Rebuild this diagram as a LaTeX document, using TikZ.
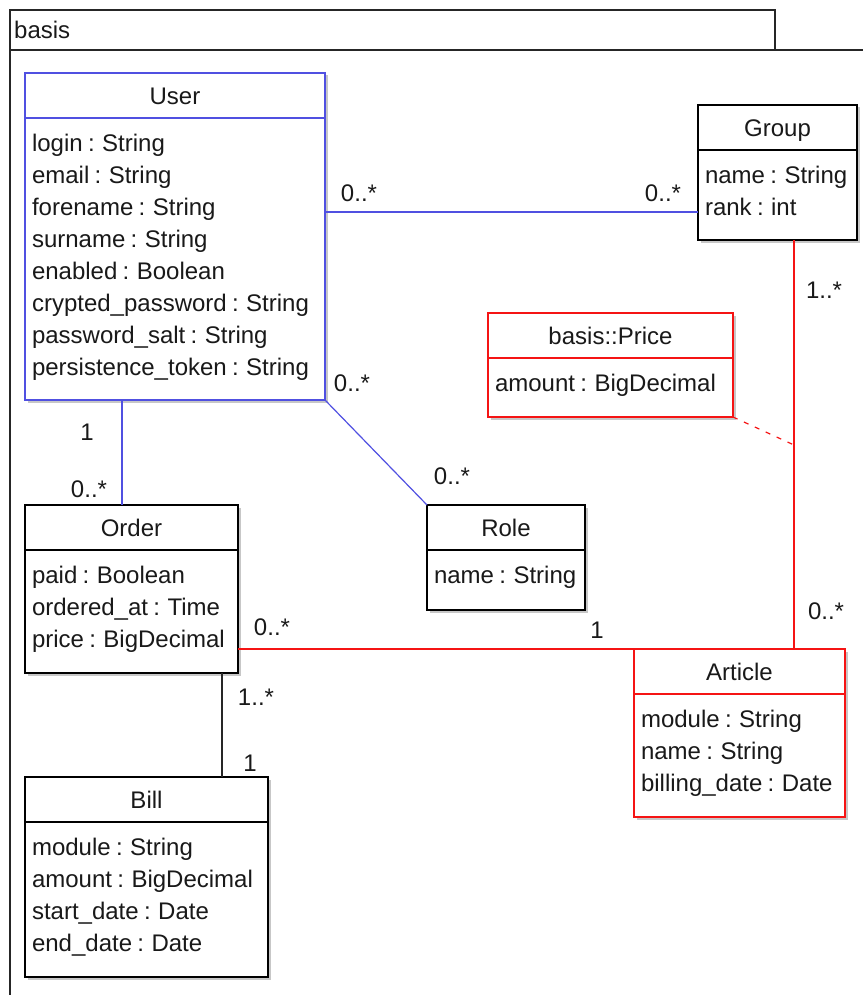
\documentclass[tikz,border=0pt]{standalone}
\usepackage{fontspec}
\setmainfont{Liberation Sans}
\usetikzlibrary{calc,shadows}

\definecolor{umlblue}{RGB}{80,80,225}
\definecolor{umlred}{RGB}{245,20,20}
\newcommand\umlfont{\fontsize{24}{28}\selectfont\spaceskip=0.22em plus 0.05em\relax}

% #1 node name, #2 colour, #3 x, #4 y (top left), #5 width, #6 height, #7 class name, #8 attributes
\newcommand\umlclass[8]{%
  \node[classbox=#2, minimum width=#5pt, minimum height=#6pt] (#1) at (#3,#4) {};
  \draw[draw=#2, line width=1.4pt] ($(#1.north west)+(0pt,-45pt)$) -- ($(#1.north east)+(0pt,-45pt)$);
  \node[anchor=base] (#1-title) at ($(#1.north)+(0pt,-31.5pt)$) {#7};
  \foreach \attr [count=\i] in {#8}
    \node[anchor=base west] (#1-attr-\i) at ($(#1.north west)+(3.5pt,{-78.5pt-32pt*(\i-1)})$) {\attr};
}

\tikzset{
  classbox/.style={draw=#1, line width=1.4pt, fill=white, anchor=north west,
    inner sep=0pt, outer sep=0pt,
    drop shadow={shadow xshift=2.5pt, shadow yshift=-2.5pt, opacity=0.22, fill=black}},
  frame/.style={line width=1.4pt, draw=black!85},
  assoc/.style={line width=1.2pt},
  mult/.style={inner sep=0pt},
}

\begin{document}
\begin{tikzpicture}[x=1pt, y=-1pt, every node/.style={font=\umlfont, text=black!90}]
\useasboundingbox (0,0) rectangle (863,995);

% package frame
\node[frame, draw, anchor=north west, minimum width=765pt, minimum height=40pt, inner sep=0pt, outer sep=0pt] (tab) at (10,10) {};
\node[anchor=base west, inner sep=0pt] (tabname) at (14,38.5) {basis};
\draw[frame] (tab.south west) -- (tab.south east) -- (863,50);
\draw[frame] (tab.south west) -- (10,995);

% classes
\umlclass{user}{umlblue}{25}{73}{300}{327}{User}{login : String, email : String, forename : String, surname : String, enabled : Boolean, crypted\_password : String, password\_salt : String, persistence\_token : String}
\umlclass{group}{black}{698}{105}{159}{135}{Group}{name : String, rank : int}
\umlclass{price}{umlred}{488}{313}{245}{104}{basis::Price}{amount : BigDecimal}
\umlclass{order}{black}{25}{505}{213}{168}{Order}{paid : Boolean, ordered\_at : Time, price : BigDecimal}
\umlclass{role}{black}{427}{505}{158}{105}{Role}{name : String}
\umlclass{article}{umlred}{634}{649}{211}{168}{Article}{module : String, name : String, billing\_date : Date}
\umlclass{bill}{black}{25}{777}{243}{200}{Bill}{module : String, amount : BigDecimal, start\_date : Date, end\_date : Date}

% connector positions
\coordinate (ugY) at (0,212);
\coordinate (uoX) at (122,0);
\coordinate (gaX) at (794,0);
\coordinate (obX) at (222,0);
\coordinate (priceLink) at (794,445);

% associations
\draw[assoc, umlblue] (user.east |- ugY) -- (group.west |- ugY);
\draw[assoc, umlblue] (user.south -| uoX) -- (order.north -| uoX);
\draw[assoc, umlblue] (user.south east) -- (role.north west);
\draw[assoc, umlred] (group.south -| gaX) -- (article.north -| gaX);
\draw[assoc, umlred] (order.east |- article.north) -- (article.north west);
\draw[assoc, black!85] (order.south -| obX) -- (bill.north -| obX);
\draw[assoc, umlred, dash pattern=on 5pt off 7pt] (price.south east) -- (priceLink);

% multiplicities
\node[mult] (m1) at (359,193) {0..*};
\node[mult] (m2) at (663,193) {0..*};
\node[mult] (m3) at (87,432) {1};
\node[mult] (m4) at (89,489) {0..*};
\node[mult] (m5) at (352,383) {0..*};
\node[mult] (m6) at (452,476) {0..*};
\node[mult] (m7) at (824,290) {1..*};
\node[mult] (m8) at (826,611) {0..*};
\node[mult] (m9) at (272,627) {0..*};
\node[mult] (m10) at (597,630) {1};
\node[mult] (m11) at (256,697) {1..*};
\node[mult] (m12) at (250,763) {1};
\end{tikzpicture}
\end{document}
